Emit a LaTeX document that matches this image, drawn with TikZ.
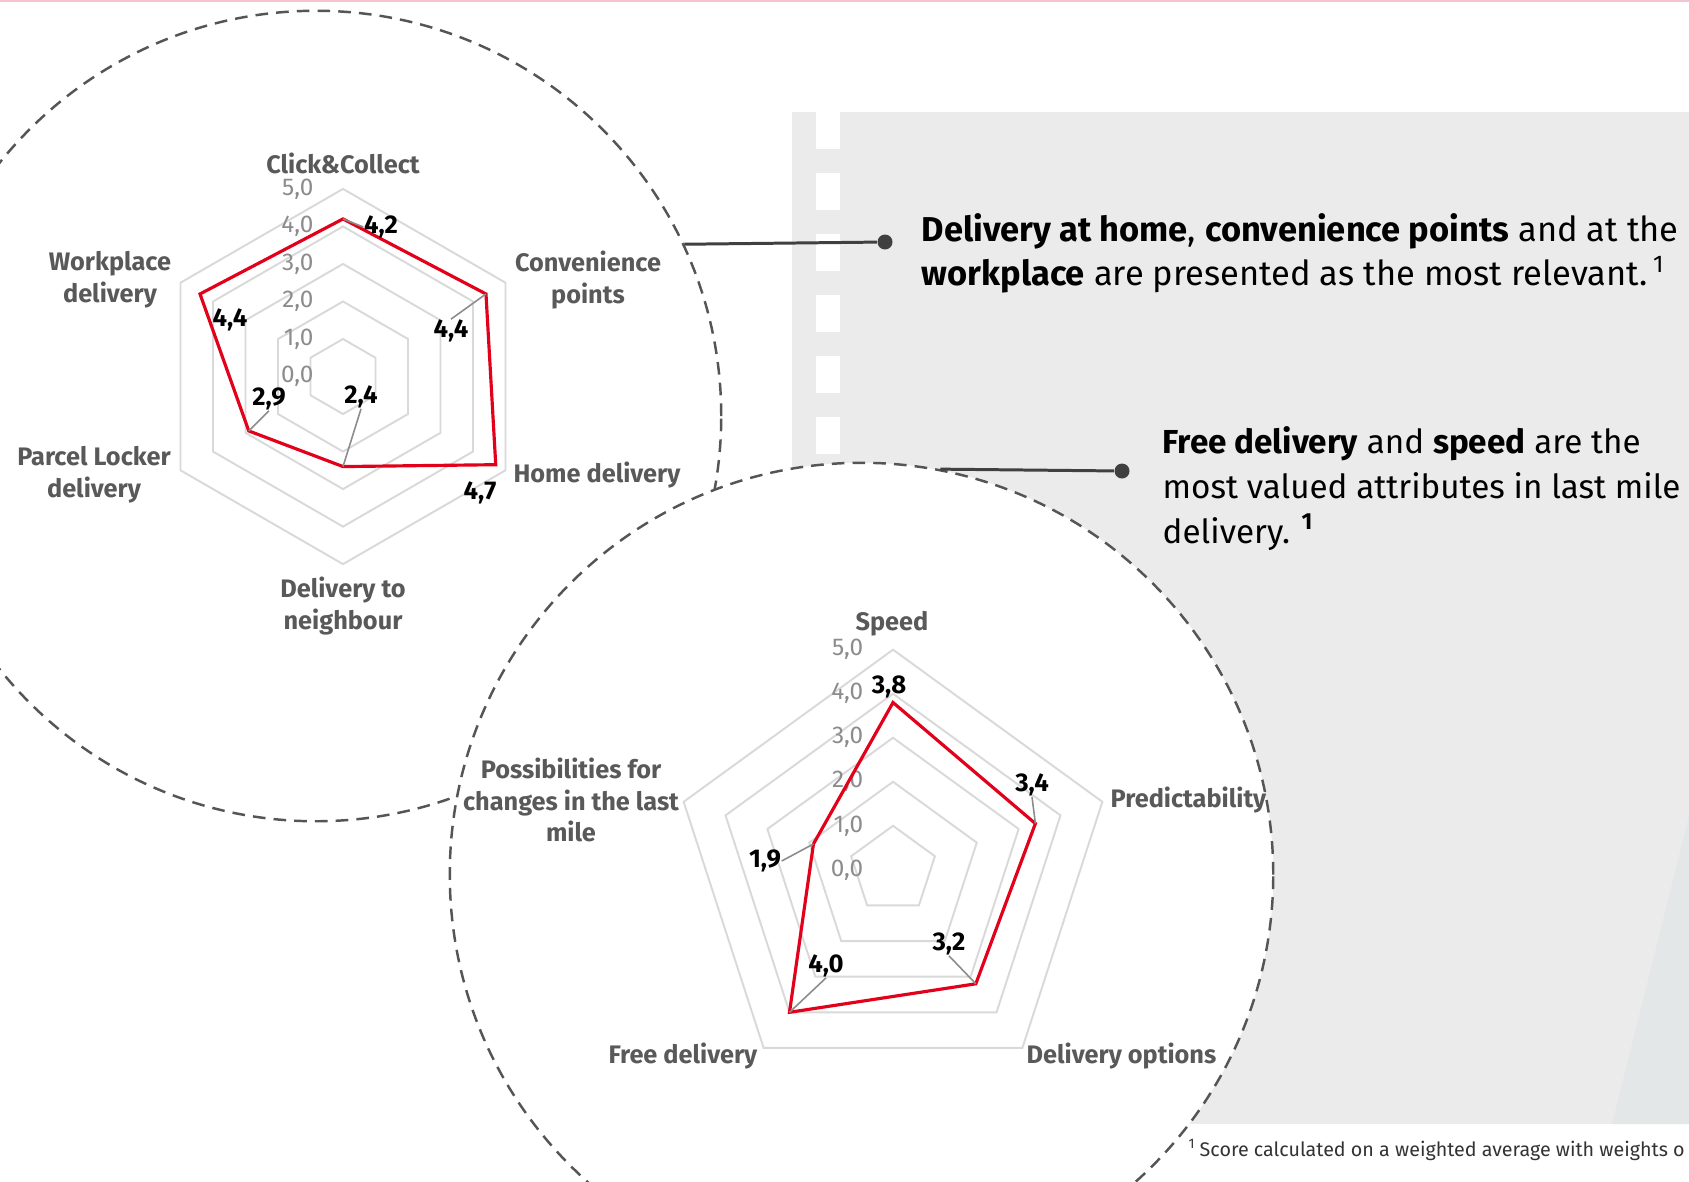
\documentclass[tikz,border=0pt]{standalone}
\usepackage{fontspec}
\setmainfont{Fira Sans}

\definecolor{panelgray}{HTML}{EBEBEB}
\definecolor{fadegray}{HTML}{E4E7E8}
\definecolor{gridgray}{HTML}{D9D9D9}
\definecolor{labgray}{HTML}{595959}
\definecolor{scalegray}{HTML}{8C8C8C}
\definecolor{leadgray}{HTML}{8C8C8C}
\definecolor{datared}{HTML}{E2001A}
\definecolor{darkline}{HTML}{404040}
\definecolor{dashgray}{HTML}{555555}
\definecolor{notegray}{HTML}{333333}
\definecolor{topline}{HTML}{F6C4CE}

\tikzset{
  bubble/.style={circle,draw=dashgray,fill=white,line width=0.7pt,
    dash pattern=on 3.6pt off 2.3pt,inner sep=0pt,minimum size=#1},
  gridline/.style={draw=gridgray,line width=0.55pt},
  dataline/.style={draw=datared,line width=0.9pt},
  leader/.style={draw=leadgray,line width=0.45pt},
  connector/.style={draw=darkline,line width=0.85pt},
  dot/.style={circle,fill=darkline,inner sep=0pt,minimum size=0.15cm},
  axislab/.style={font=\fontsize{7.2}{9}\selectfont\bfseries,text=labgray,align=center,inner sep=0pt},
  vallab/.style={font=\fontsize{7.3}{8}\selectfont\bfseries,text=black,inner sep=0pt},
  scalelab/.style={font=\fontsize{6.9}{8}\selectfont,text=scalegray,anchor=east,inner sep=0pt},
  headtext/.style={font=\fontsize{9.8}{12.5}\selectfont,text=black,anchor=base west,inner sep=0pt},
  subtext/.style={headtext,font=\fontsize{9.45}{12.5}\selectfont},
  notetext/.style={font=\fontsize{5.6}{7}\selectfont,text=notegray,anchor=west,inner sep=0pt},
}

\begin{document}
\begin{tikzpicture}[x=0.01cm,y=-0.01cm]

\clip (0,0) rectangle (1689,1181);
\fill[white] (0,0) rectangle (1689,1181);
\draw[topline,line width=0.6pt] (0,1) -- (1689,1); %top rule

% grey panel with white stripe
\fill[panelgray] (792,112) rectangle (1689,1124);
\fill[fadegray] (1612,1124) -- (1689,816) -- (1689,1124) -- cycle;
\draw[white,line width=0.24cm,dash pattern=on 0.37cm off 0.24cm] (828,112) -- (828,1124);

% upper bubble: delivery methods
\node[bubble=8.1cm] (upbub) at (316,416) {};

\begin{scope}[shift={(343,376.5)},x=0.375cm,y=0.375cm]
\foreach \r in {1,...,5}
  \draw[gridline] (90:\r) -- (30:\r) -- (-30:\r) -- (-90:\r) -- (-150:\r) -- (150:\r) -- cycle;
\foreach \k in {0,...,5}
  \node[scalelab] (us\k) at (-0.77,\k) {\k,0};
\draw[dataline] (90:4.2) coordinate (cc) -- (30:4.4) coordinate (cp)
  -- (-30:4.7) coordinate (hd) -- (-90:2.4) coordinate (dn)
  -- (-150:2.9) coordinate (pl) -- (150:4.4) coordinate (wd) -- cycle;
\end{scope}

\node[axislab] (l1) at (343,163) {Click\&Collect};
\node[axislab] (l2) at (588,280) {Convenience\\points};
\node[axislab] (l3) at (597,475) {Home delivery};
\node[axislab] (l4) at (343,606) {Delivery to\\neighbour};
\node[axislab] (l5) at (94,475) {Parcel Locker\\delivery};
\node[axislab] (l6) at (110,280) {Workplace\\delivery};

\node[vallab] (v1) at (381,227) {4,2};
\node[vallab] (v2) at (451,331) {4,4};
\node[vallab] (v3) at (480,493) {4,7};
\node[vallab] (v4) at (361,397) {2,4};
\node[vallab] (v5) at (269,399) {2,9};
\node[vallab] (v6) at (230,320) {4,4};
\draw[leader] (cc) -- (v1.west);
\draw[leader] (v2.north) -- (cp);
\draw[leader] (v4.south) -- (dn);
\draw[leader] (v5.south) -- (pl);

\node[dot] (updot) at (885,242) {};
\draw[connector] (upbub.25) -- (updot);

% lower bubble: attributes
\node[bubble=8.23cm] (lowbub) at (861.5,874.5) {};

\begin{scope}[shift={(893,869.8)},x=0.44cm,y=0.44cm]
\foreach \r in {1,...,5}
  \draw[gridline] (90:\r) -- (18:\r) -- (-54:\r) -- (-126:\r) -- (162:\r) -- cycle;
\foreach \k in {0,...,5}
  \node[scalelab] (ls\k) at (-0.66,\k) {\k,0};
\draw[dataline] (90:3.8) coordinate (sp) -- (18:3.4) coordinate (pr)
  -- (-54:3.2) coordinate (dop) -- (-126:4.0) coordinate (fd)
  -- (162:1.9) coordinate (pc) -- cycle;
\end{scope}

\node[axislab] (m1) at (892,624) {Speed};
\node[axislab,anchor=west] (m2) at (1110,800) {Predictability};
\node[axislab,anchor=west] (m3) at (1026,1056) {Delivery options};
\node[axislab,anchor=east] (m4) at (758,1056) {Free delivery};
\node[axislab] (m5) at (571,800) {Possibilities for\\changes in the last\\mile};

\node[vallab] (w1) at (889,687) {3,8};
\node[vallab] (w2) at (1032,785) {3,4};
\node[vallab] (w3) at (949,944) {3,2};
\node[vallab] (w4) at (826,966) {4,0};
\node[vallab] (w5) at (765,861) {1,9};
\draw[leader] (w2.south) -- (pr);
\draw[leader] (w3.south) -- (dop);
\draw[leader] (w4.south) -- (fd);
\draw[leader] (w5.east) -- (pc);

\node[dot] (lowdot) at (1122,471) {};
\draw[connector] (lowbub.79) -- (lowdot);

% statements
\node[headtext] (h1) at (921,241) {\textbf{Delivery at home}, \textbf{convenience points} and at the};
\node[headtext] (h2) at (921,285) {\textbf{workplace} are presented as the most relevant.\,\textsuperscript{1}};
\node[subtext] (h3) at (1162,453) {\textbf{Free delivery} and \textbf{speed} are the};
\node[subtext] (h4) at (1162,498) {most valued attributes in last mile};
\node[subtext] (h5) at (1162,543) {delivery. \textsuperscript{\textbf{1}}};

\node[notetext] (fn) at (1188,1150) {\textsuperscript{1}\,Score calculated on a weighted average with weights o};

\end{tikzpicture}
\end{document}
